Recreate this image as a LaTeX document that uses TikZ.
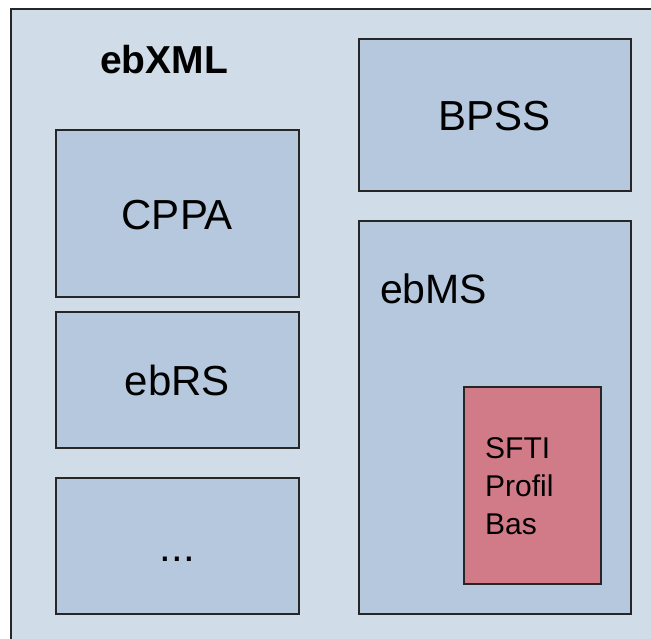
\documentclass[tikz,border=0pt]{standalone}
\usepackage{fontspec}
\setmainfont{Liberation Sans}
\usepackage{tikz}
\definecolor{outblue}{RGB}{208,220,232}
\definecolor{inblue}{RGB}{181,200,221}
\definecolor{rose}{RGB}{209,123,137}
\begin{document}
\begin{tikzpicture}[x=1pt,y=-1pt,
  box/.style={draw=black!85, line width=1.6pt, fill=inblue, inner sep=0pt, anchor=north west,
    text height=32pt, text depth=0pt, font=\fontsize{42}{50}\selectfont},
  lbl/.style={inner sep=0pt, anchor=base west}]
\useasboundingbox (0,0) rectangle (651,639);
\node[box, fill=outblue, minimum width=660pt, minimum height=660pt] (xml) at (10,8) {};
\node[lbl, font=\fontsize{39}{46}\selectfont\bfseries] (xmltxt) at (100,74) {ebXML};
\node[box, minimum width=243pt, minimum height=167pt] (cppa) at (55,129) {CPPA};
\node[box, minimum width=243pt, minimum height=136pt] (ebrs) at (55,311) {ebRS};
\node[box, minimum width=243pt, minimum height=136pt] (more) at (55,477) {...};
\node[box, minimum width=272pt, minimum height=152pt] (bpss) at (358,38) {BPSS};
\node[box, minimum width=272pt, minimum height=393pt] (ebms) at (358,220) {};
\node[lbl, font=\fontsize{41}{48}\selectfont] (ebmstxt) at (380,303) {ebMS};
\node[box, fill=rose, minimum width=137pt, minimum height=197pt] (sfti) at (463,386) {};
\node[lbl, align=left, font=\fontsize{30}{38}\selectfont] (sftitxt) at (485,534) {SFTI\\Profil\\Bas};
\end{tikzpicture}
\end{document}
